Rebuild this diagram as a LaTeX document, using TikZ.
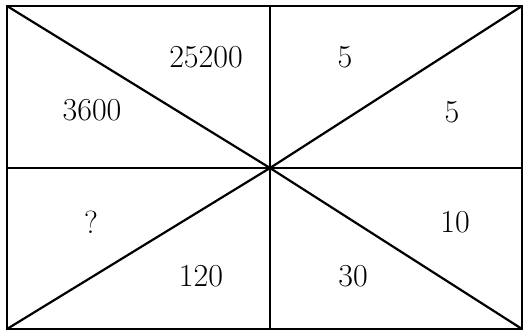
\documentclass[tikz,border=0pt]{standalone}
\begin{document}
\begin{tikzpicture}[x=1pt,y=-1pt,line width=2.2pt,
  num/.style={font=\fontsize{32}{36}\selectfont,inner sep=0pt}]
\useasboundingbox (0,0) rectangle (524,331);
\coordinate (o) at (270,168);
\coordinate (tl) at (7,6); \coordinate (tr) at (522,6);
\coordinate (bl) at (7,329); \coordinate (br) at (522,329);
\coordinate (t) at (270,6); \coordinate (b) at (270,329);
\coordinate (l) at (7,168); \coordinate (r) at (522,168);
\draw (tl)--(tr)--(br)--(bl)--cycle;
\draw (t)--(b); \draw (l)--(r);
\foreach \p in {tl,tr,bl,br}{\draw (\p)--(o);}
\node[num] (n1) at (206,57) {25200};
\node[num] (n2) at (92,110) {3600};
\node[num] (n3) at (345,57) {5};
\node[num] (n4) at (452,112) {5};
\node[num] (n5) at (91,222) {?};
\node[num] (n6) at (201,276) {120};
\node[num] (n7) at (353,276) {30};
\node[num] (n8) at (455,222) {10};
\end{tikzpicture}
\end{document}
